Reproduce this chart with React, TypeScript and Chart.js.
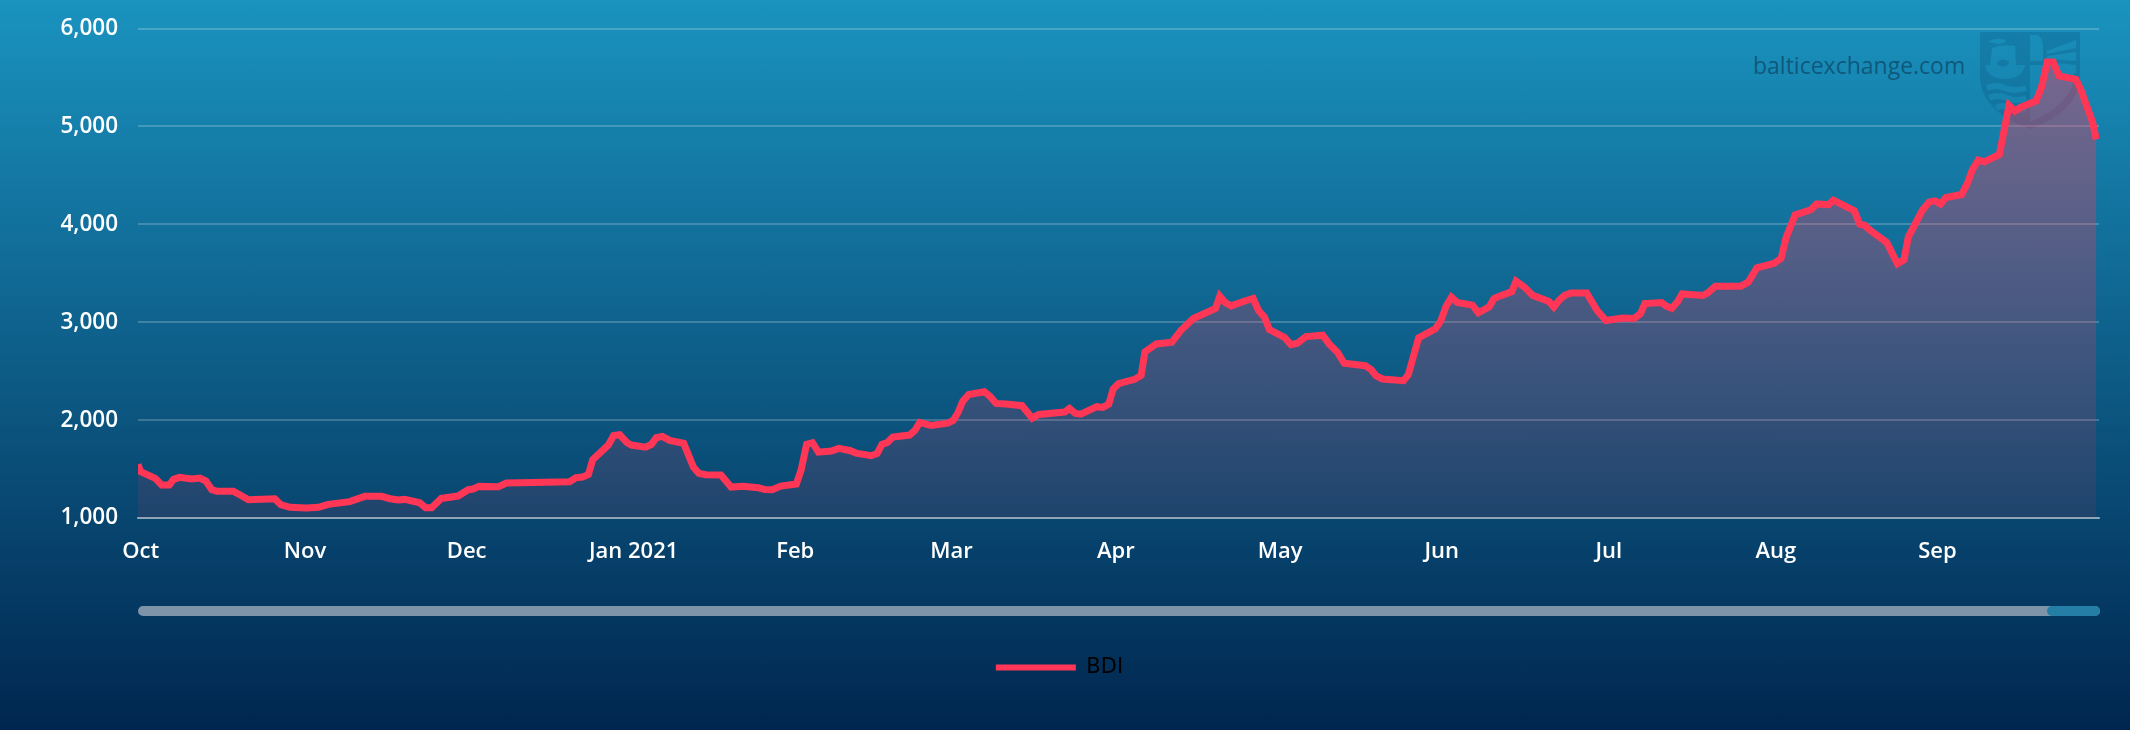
import React, { useEffect, useRef } from "react";
import { Chart, registerables } from "chart.js";

Chart.register(...registerables);

const seriesName = "BDI";
const tickDays = [0.5, 31, 61, 92, 122, 151, 181.5, 212, 242, 273, 304, 334];
const tickLabels = ["Oct", "Nov", "Dec", "Jan 2021", "Feb", "Mar", "Apr", "May", "Jun", "Jul", "Aug", "Sep"];
const days = [
  0, 0.5, 3.2, 4.4, 5.8, 6.6, 7.7, 10, 11.5, 12.6, 13.7, 14.7, 17.7, 18.9, 20.5, 25.4, 26.5, 28.2, 31.3, 33.5, 35.3, 39.3,
  42.1, 45.2, 46.8, 48.3, 49.5, 52.3, 53.4, 54.5, 56.3, 59.4, 61.3, 62.2, 63.3, 66.9, 68.4, 70.9, 80.1, 81.3, 82.5, 83.6,
  84.4, 87.3, 88.3, 89.4, 90.8, 91.6, 94.2, 95.3, 96.2, 97.3, 98.7, 101.3, 103.1, 104.1, 105.4, 108.2, 110.1, 112.3, 115.1,
  116.3, 117.7, 119.3, 122.2, 123.1, 124.1, 125.2, 126.3, 128.7, 130.1, 132.1, 133.3, 136.1, 137.2, 138.1, 139.1, 140.1,
  143.2, 144.2, 145.1, 147.2, 150.3, 151.3, 152.2, 153.1, 154.2, 157.1, 158.1, 159.3, 161.1, 164.1, 166, 167.2, 172, 172.9,
  174, 175, 178, 179.1, 180.2, 181, 182, 185, 186.2, 186.9, 189, 191.9, 193.6, 195.9, 200, 200.8, 201.8, 202.9, 205.7, 207,
  208, 209.1, 210, 212.8, 214, 215.2, 216.8, 219.9, 221.1, 222.7, 223.9, 227.8, 228.9, 229.8, 231, 234.9, 235.8, 237.7,
  240.8, 241.8, 242.8, 243.8, 244.9, 247.7, 248.8, 250.8, 251.7, 252.7, 255, 255.8, 257.3, 258.9, 261.9, 262.8, 263.8,
  264.8, 266, 268.9, 270.9, 272.5, 275.6, 277.7, 278.9, 279.7, 282.8, 283.6, 284.7, 285.8, 286.6, 290.5, 291.4, 292.8,
  297.5, 298.9, 300.5, 303.7, 305, 305.9, 307.6, 310.5, 311.6, 313.8, 314.7, 318.6, 319.6, 320.5, 321.7, 324.6, 326.6,
  327.8, 328.6, 331.2, 332.5, 333.6, 334.6, 335.6, 338.5, 339.6, 340.5, 341.6, 342.7, 345.5, 347.3, 348.4, 349.5, 352.3,
  353.3, 354.4, 355.5, 356.6, 359.7, 360.6, 362.8, 363.5,
];
const bdi = [
  1548, 1473, 1405, 1337, 1337, 1395, 1415, 1398, 1408, 1378, 1289, 1272, 1272, 1238, 1187, 1197, 1136, 1109, 1102, 1109, 1139, 1167,
  1221, 1221, 1197, 1184, 1190, 1156, 1105, 1105, 1200, 1224, 1289, 1296, 1323, 1320, 1357, 1360, 1371, 1411, 1418, 1445,
  1595, 1745, 1843, 1850, 1769, 1745, 1724, 1752, 1820, 1833, 1792, 1762, 1520, 1456, 1442, 1439, 1316, 1323, 1310,
  1292, 1289, 1326, 1347, 1493, 1752, 1769, 1673, 1684, 1711, 1690, 1663, 1636, 1660, 1752, 1772, 1826,
  1847, 1894, 1976, 1945, 1969, 1996, 2075, 2194, 2262, 2289, 2245, 2170, 2164, 2147, 2020, 2058, 2082, 2119,
  2068, 2061, 2137, 2130, 2164, 2317, 2372, 2416, 2457, 2696, 2778, 2795, 2918, 3038, 3140, 3266, 3201, 3167, 3222, 3242,
  3119, 3051, 2925, 2846, 2771, 2785, 2853, 2867, 2778, 2689, 2580, 2556, 2515, 2454, 2420, 2403, 2464, 2840,
  2932, 3010, 3164, 3256, 3201, 3174, 3096, 3157, 3242, 3266, 3312, 3420, 3361, 3274, 3212, 3156, 3226,
  3274, 3299, 3299, 3115, 3017, 3042, 3038, 3087, 3191, 3201, 3167, 3142, 3212, 3288, 3274, 3299, 3368,
  3368, 3410, 3556, 3601, 3653, 3861, 4097, 4149, 4208, 4201, 4246, 4139, 4000, 3990, 3931, 3816, 3597,
  3638, 3870, 4143, 4229, 4239, 4208, 4273, 4304, 4423, 4560, 4655, 4638, 4713, 5215, 5157, 5198, 5259,
  5396, 5659, 5659, 5515, 5481, 5379, 5044, 4867,
];

const LINE_RED = "#ff3656";
const UI_FONT = '"Open Sans", sans-serif';
const PLOT_TOP = 28.5;

const pinPlotTop = {
  id: "pinPlotTop",
  afterLayout(chart: any) {
    const area = chart.chartArea;
    const y = chart.scales.y;
    area.top = PLOT_TOP;
    area.height = area.bottom - PLOT_TOP;
    y.top = PLOT_TOP;
    y.height = y.bottom - PLOT_TOP;
    y.configure();
  },
};

export default function App() {
  const ref = useRef<HTMLCanvasElement>(null);

  useEffect(() => {
    const chart = new Chart(ref.current as HTMLCanvasElement, {
      type: "line",
      plugins: [pinPlotTop],
      data: {
        datasets: [
          {
            label: seriesName,
            data: days.map((d, i) => ({ x: d, y: bdi[i] })),
            borderColor: LINE_RED,
            borderWidth: 7,
            borderJoinStyle: "miter",
            borderCapStyle: "butt",
            pointRadius: 0,
            tension: 0,
            fill: "start",
            backgroundColor: (c: any) => {
              const area = c.chart.chartArea;
              if (!area) return "rgba(255,54,86,0.2)";
              const g = c.chart.ctx.createLinearGradient(0, 60, 0, area.bottom);
              g.addColorStop(0, "rgba(255,54,86,0.42)");
              g.addColorStop(1, "rgba(255,54,86,0.09)");
              return g;
            },
          },
        ],
      },
      options: {
        responsive: false,
        animation: false,
        layout: { autoPadding: false, padding: { top: 23.5, right: 31, left: 20, bottom: 42 } },
        plugins: {
          tooltip: { enabled: false },
          legend: {
            display: true,
            position: "bottom",
            onClick: () => {},
            labels: {
              boxWidth: 80,
              boxHeight: 6,
              padding: 53,
              color: "#001020",
              font: { family: "DejaVu Sans", size: 21 },
              generateLabels: () => [
                { text: seriesName, fillStyle: LINE_RED, strokeStyle: LINE_RED, lineWidth: 0, datasetIndex: 0 },
              ],
            },
          },
        },
        scales: {
          x: {
            type: "linear",
            min: 0,
            max: 364,
            afterFit: (s: any) => {
              s.height = 86;
            },
            afterBuildTicks: (s: any) => {
              s.ticks = tickDays.map((v) => ({ value: v }));
            },
            grid: { display: false, drawTicks: false },
            border: { display: true, color: "rgba(255,255,255,0.42)", width: 2 },
            ticks: {
              color: "#ffffff",
              autoSkip: false,
              maxRotation: 0,
              padding: 21,
              font: { family: UI_FONT, size: 22, weight: 600 },
              callback: (v: any) => tickLabels[tickDays.indexOf(v)] ?? "",
            },
          },
          y: {
            min: 1000,
            max: 6000,
            afterFit: (s: any) => {
              s.width = 118;
            },
            grid: { color: "rgba(255,255,255,0.2)", lineWidth: 2, drawTicks: false },
            border: { display: false },
            ticks: {
              stepSize: 1000,
              color: "#ffffff",
              padding: 20,
              font: { family: UI_FONT, size: 22.5, weight: 600 },
              callback: (v: any) => Number(v).toLocaleString("en-US"),
            },
          },
        },
      },
    } as any);
    return () => chart.destroy();
  }, []);

  return (
    <div
      style={{
        position: "fixed",
        left: 0,
        top: 0,
        width: 2130,
        height: 730,
        overflow: "hidden",
        background: "linear-gradient(180deg, #1a93bf 0%, #00264f 100%)",
      }}
    >
      <div
        style={{
          position: "absolute",
          left: 1753,
          top: 48,
          fontFamily: UI_FONT,
          fontSize: 23,
          lineHeight: "34px",
          color: "rgba(8,55,85,0.6)",
          whiteSpace: "nowrap",
        }}
      >
        balticexchange.com
      </div>
      <svg style={{ position: "absolute", left: 1980, top: 32 }} width={100} height={97} viewBox="0 0 100 97">
        <defs>
          <mask id="crest">
            <path d="M0 0H100V45C100 72 72 90 50 97C28 90 0 72 0 45Z" fill="#fff" />
            <g fill="#000">
              <path d="M12 16Q22 12 35 14L36 33H10Z" />
              <path d="M5 33H45Q42 47 25 47Q8 47 5 33Z" />
              <path d="M8 10Q16 4 27 9L20 12Z" />
              <path d="M50 3H57Q63 6 63 14V29H50Z" />
              <path d="M50 33H94V46C92 66 70 82 50 90Z" />
              <path d="M67 19L96 8V16L67 22Z" />
              <path d="M67 24L96 20V29L67 27Z" />
              <path d="M67 30L96 33V41L67 33Z" />
            </g>
            <ellipse cx="23" cy="31" rx="6" ry="3.5" fill="#fff" />
            <g fill="none" stroke="#000" strokeWidth="6">
              <path d="M7 56Q16 52 25 56T46 56" />
              <path d="M9 66Q18 62 27 66T46 66" />
              <path d="M16 76Q24 72 32 76T46 76" />
            </g>
          </mask>
        </defs>
        <rect width="100" height="97" fill="rgba(6,62,104,0.2)" mask="url(#crest)" />
      </svg>
      <canvas ref={ref} width={2130} height={730} style={{ position: "absolute", left: 0, top: 0, display: "block" }} />
      <div style={{ position: "absolute", left: 138, top: 606, width: 1962, height: 10, borderRadius: 5, background: "#7d94a9" }} />
      <div
        style={{
          position: "absolute",
          left: 2047,
          top: 606,
          width: 53,
          height: 10,
          borderRadius: 5,
          background: "#247ea6",
        }}
      />
    </div>
  );
}
